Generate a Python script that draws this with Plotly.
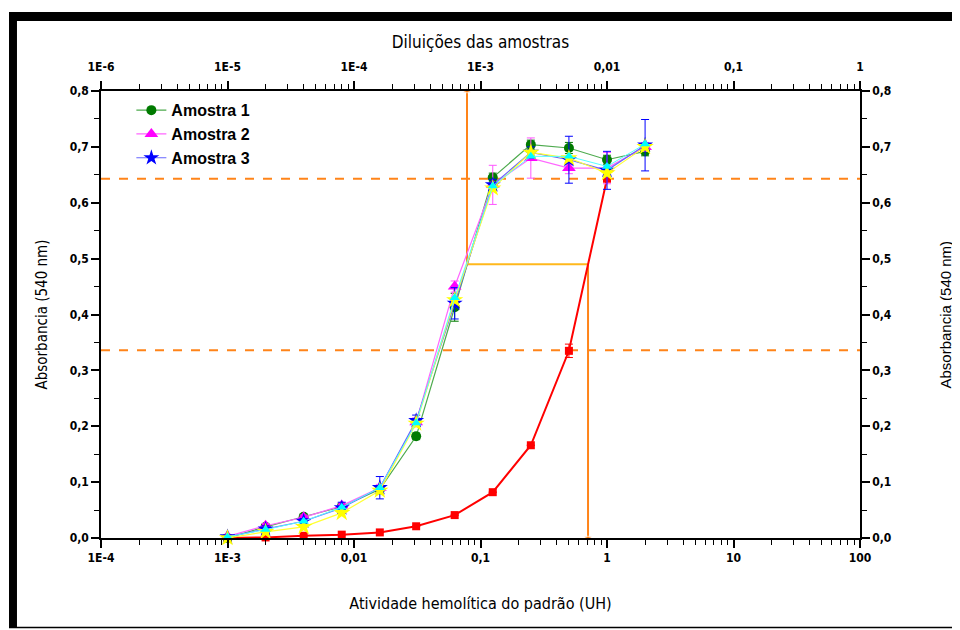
import plotly.graph_objects as go

# ---------------- data ----------------
dil = [0.001, 0.002, 0.004, 0.008, 0.016, 0.031, 0.0625, 0.125, 0.25, 0.5, 1, 2]

amostra1 = [0.000, 0.020, 0.038, 0.056, 0.087, 0.182, 0.413, 0.645, 0.704, 0.698, 0.677, 0.692]
amostra1_err = [0, 0.004, 0.004, 0.005, 0.006, 0.006, 0.025, 0.008, 0.008, 0.010, 0.008, 0.008]

amostra2 = [0.003, 0.022, 0.037, 0.058, 0.090, 0.207, 0.450, 0.632, 0.680, 0.662, 0.662, 0.700]
amostra2_err = [0, 0.004, 0.004, 0.005, 0.006, 0.008, 0.010, 0.035, 0.036, 0.010, 0.028, 0.008]

amostra3 = [0.002, 0.016, 0.030, 0.054, 0.090, 0.210, 0.420, 0.632, 0.690, 0.677, 0.658, 0.703]
amostra3_err = [0, 0.006, 0.005, 0.010, 0.020, 0.010, 0.028, 0.010, 0.010, 0.042, 0.034, 0.046]

media_estrela = [0.000, 0.011, 0.020, 0.045, 0.085, 0.205, 0.426, 0.626, 0.690, 0.680, 0.653, 0.700]
media_triangulo = [0.002, 0.015, 0.030, 0.055, 0.090, 0.206, 0.430, 0.630, 0.683, 0.683, 0.665, 0.705]

padrao_x = [0.001, 0.002, 0.004, 0.008, 0.016, 0.031, 0.0625, 0.125, 0.25, 0.5, 1]
padrao = [0.000, 0.001, 0.004, 0.006, 0.010, 0.021, 0.041, 0.082, 0.166, 0.335, 0.643]
padrao_err = [0, 0, 0, 0, 0, 0, 0, 0, 0, 0.012, 0]

ref_low = 0.336      # dashed reference levels
ref_high = 0.643
ref_mid = 0.49
x_amostra50 = 0.0782
x_padrao50 = 0.708

x_range_pts = [1e-4, 100]

bottom_tickvals = [1e-4, 1e-3, 1e-2, 1e-1, 1, 10, 100]
bottom_ticktext = ["1E-4", "1E-3", "0,01", "0,1", "1", "10", "100"]
top_tickvals = [1e-6, 1e-5, 1e-4, 1e-3, 1e-2, 1e-1, 1]
top_ticktext = ["1E-6", "1E-5", "1E-4", "1E-3", "0,01", "0,1", "1"]
y_tickvals = [0.0, 0.1, 0.2, 0.3, 0.4, 0.5, 0.6, 0.7, 0.8]
y_ticktext = ["0,0", "0,1", "0,2", "0,3", "0,4", "0,5", "0,6", "0,7", "0,8"]
y_minor = [0.05, 0.15, 0.25, 0.35, 0.45, 0.55, 0.65, 0.75]

bottom_minor = [k * 10.0 ** d for d in range(-4, 2) for k in range(2, 10)]
top_minor = [k * 10.0 ** d for d in range(-6, 0) for k in range(2, 10)]

NARROW = "DejaVu Sans Condensed, Liberation Sans Narrow, Arial Narrow, sans-serif"
ARIAL = "Liberation Sans, Arial, sans-serif"

fig = go.Figure()

# reference dashed lines
for lvl in [ref_high, ref_low]:
    fig.add_trace(go.Scatter(x=x_range_pts, y=[lvl, lvl], mode="lines",
                             line=dict(color="#FF8419", width=2, dash="dash"),
                             showlegend=False, hoverinfo="skip"))

# guide lines
fig.add_trace(go.Scatter(x=[x_amostra50, x_padrao50], y=[ref_mid, ref_mid], mode="lines",
                         line=dict(color="#FFB81C", width=2), showlegend=False, hoverinfo="skip"))
fig.add_trace(go.Scatter(x=[x_amostra50, x_amostra50], y=[ref_mid, 0.8], mode="lines+markers",
                         line=dict(color="#FF8419", width=2),
                         marker=dict(symbol=["line-ew", "triangle-up"], size=[1, 7], color="#FF8419"),
                         showlegend=False, hoverinfo="skip", cliponaxis=False))
fig.add_trace(go.Scatter(x=[x_padrao50, x_padrao50], y=[ref_mid, 0.0], mode="lines+markers",
                         line=dict(color="#FF8419", width=2),
                         marker=dict(symbol=["line-ew", "triangle-down"], size=[1, 7], color="#FF8419"),
                         showlegend=False, hoverinfo="skip", cliponaxis=False))

# standard (red)
fig.add_trace(go.Scatter(x=padrao_x, y=padrao, mode="lines+markers",
                         line=dict(color="#FF0000", width=2),
                         marker=dict(symbol="square", size=8, color="#FF0000"),
                         error_y=dict(type="data", array=padrao_err, color="#FF0000", thickness=1, width=4),
                         showlegend=False, cliponaxis=False))

fig.add_trace(go.Scatter(x=dil, y=amostra1, mode="lines+markers", name="Amostra 1",
                         line=dict(color="#4DAA4D", width=1.2),
                         marker=dict(symbol="circle", size=10, color="#007A00"),
                         error_y=dict(type="data", array=amostra1_err, color="#007A00", thickness=1, width=4),
                         cliponaxis=False))
fig.add_trace(go.Scatter(x=dil, y=amostra2, mode="lines+markers", name="Amostra 2",
                         line=dict(color="#FF66FF", width=1.2),
                         marker=dict(symbol="triangle-up", size=12, color="#FF00FF"),
                         error_y=dict(type="data", array=amostra2_err, color="#FF55FF", thickness=1, width=4),
                         cliponaxis=False))
fig.add_trace(go.Scatter(x=dil, y=amostra3, mode="lines+markers", name="Amostra 3",
                         line=dict(color="#6666FF", width=1.2),
                         marker=dict(symbol="star", size=12, color="#0000FF"),
                         error_y=dict(type="data", array=amostra3_err, color="#0000FF", thickness=1, width=4),
                         cliponaxis=False))
fig.add_trace(go.Scatter(x=dil, y=media_estrela, mode="lines+markers",
                         line=dict(color="#FFFF33", width=1.2),
                         marker=dict(symbol="star", size=13, color="#FFFF00"),
                         showlegend=False, cliponaxis=False))
fig.add_trace(go.Scatter(x=dil, y=media_triangulo, mode="lines+markers",
                         line=dict(color="#55FFFF", width=1),
                         marker=dict(symbol="triangle-up", size=9, color="#00FFFF"),
                         showlegend=False, cliponaxis=False))

# invisible traces to drive secondary axes
fig.add_trace(go.Scatter(x=[1e-6, 1], y=[None, None], xaxis="x2", yaxis="y", mode="lines",
                         showlegend=False, hoverinfo="skip"))
fig.add_trace(go.Scatter(x=[1e-4, 100], y=[None, None], xaxis="x", yaxis="y2", mode="lines",
                         showlegend=False, hoverinfo="skip"))

tickfont = dict(family=NARROW, size=12, color="black", weight="bold")
axis_common = dict(showline=True, linecolor="black", linewidth=1.5, ticks="outside",
                   ticklen=8, tickwidth=1.5, tickcolor="black", showgrid=False, zeroline=False,
                   tickfont=tickfont, tickmode="array", automargin=False)

fig.update_layout(
    width=960, height=630,
    margin=dict(l=93, r=108, t=83, b=100),
    paper_bgcolor="white", plot_bgcolor="white",
    xaxis=dict(type="log", range=[-4, 2], tickvals=bottom_tickvals, ticktext=bottom_ticktext,
               minor=dict(tickmode="array", tickvals=bottom_minor, ticks="outside", ticklen=5,
                          tickwidth=1, tickcolor="black"),
               title=dict(text="Atividade hemolítica do padrão (UH)", standoff=34,
                          font=dict(family=NARROW, size=16, color="black")),
               **axis_common),
    xaxis2=dict(type="log", range=[-6, 0], overlaying="x", side="top", anchor="y",
                tickvals=top_tickvals, ticktext=top_ticktext, ticklabelstandoff=5,
                minor=dict(tickmode="array", tickvals=top_minor, ticks="outside", ticklen=5,
                           tickwidth=1, tickcolor="black"),
                title=dict(text="Diluições das amostras", standoff=8,
                           font=dict(family=NARROW, size=17, color="black")),
                **axis_common),
    yaxis=dict(range=[0, 0.8], tickvals=y_tickvals, ticktext=y_ticktext,
               minor=dict(tickmode="array", tickvals=y_minor, ticks="outside", ticklen=5,
                          tickwidth=1, tickcolor="black"),
               title=dict(text="Absorbancia (540 nm)", standoff=18,
                          font=dict(family=NARROW, size=15, color="black")),
               **axis_common),
    yaxis2=dict(range=[0, 0.8], overlaying="y", side="right", anchor="x",
                tickvals=y_tickvals, ticktext=y_ticktext,
                minor=dict(tickmode="array", tickvals=y_minor, ticks="outside", ticklen=5,
                           tickwidth=1, tickcolor="black"),
                **axis_common),
    legend=dict(x=0.04, y=0.995, xanchor="left", yanchor="top", bgcolor="rgba(0,0,0,0)",
                font=dict(family=ARIAL, size=16, color="black", weight="bold"),
                tracegroupgap=0, itemwidth=30),
    showlegend=True,
    annotations=[dict(text="Absorbancia (540 nm)", xref="paper", yref="paper",
                      x=1.112, y=0.5, xanchor="center", yanchor="middle", textangle=-90,
                      showarrow=False, font=dict(family=ARIAL, size=15, color="black"))],
    shapes=[
        dict(type="rect", xref="paper", yref="paper", x0=-0.1212, x1=-0.1107, y0=-0.2013, y1=1.1767,
             fillcolor="black", line=dict(width=0), layer="above"),
        dict(type="rect", xref="paper", yref="paper", x0=-0.1212, x1=1.1318, y0=1.1566, y1=1.1767,
             fillcolor="black", line=dict(width=0), layer="above"),
        dict(type="line", xref="paper", yref="paper", x0=-0.1212, x1=1.1318, y0=-0.2002, y1=-0.2002,
             line=dict(color="black", width=1.5), layer="above"),
    ],
)

fig.write_html("out.html")
